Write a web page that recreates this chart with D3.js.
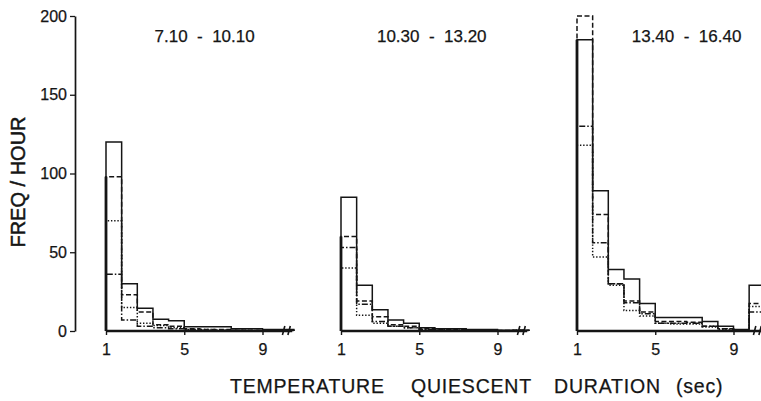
<!DOCTYPE html>
<html>
<head>
<meta charset="utf-8">
<script src="https://cdn.jsdelivr.net/npm/d3@7"></script>
<style>
  body { margin: 0; background: #fff; }
  svg text { font-family: "Liberation Sans", Arial, sans-serif; fill: #151515; stroke: #151515; stroke-width: 0.25; }
  .hist { fill: none; stroke: #151515; stroke-width: 1.5; }
</style>
</head>
<body>
<svg id="chart" width="761" height="401"></svg>
<script>
// tick values / labels
var panelTitles = ['7.10  -  10.10', '10.30  -  13.20', '13.40  -  16.40'];
var yTicks = [0, 50, 100, 150, 200];
var xTickBins = [0, 5, 10];          // bin edges carrying the ticks
var xTickLabels = ['1', '5', '9'];
var xTitleWords = ['TEMPERATURE', 'QUIESCENT', 'DURATION', '(sec)'];

// freq / hour per bin: 11 bins, then the bin past the axis break
var p1Solid   = [120, 30, 14.5, 7.5, 6.5, 2.7, 2.7, 2.7, 1.5, 1.5, 1, 1];
var p1Dashed  = [98, 23, 12, 4, 3, 1.5, 1, 1, 0.5, 0.5, 0.3, 0.5];
var p1DashDot = [36, 7, 3, 2, 1.5, 1, 0.5, 0.5, 0.3, 0.2, 0.2, 0.3];
var p1Dotted  = [70, 15, 5, 3.5, 2, 1, 1, 0.5, 0.5, 0.3, 0.2, 0.5];

var p2Solid   = [85, 29, 13.5, 7, 5, 2, 1.5, 1.5, 1, 1, 0.5, 0.5];
var p2Dashed  = [60, 19, 9, 4, 3, 1.5, 1, 1, 0.5, 0.5, 0.3, 0.5];
var p2DashDot = [53, 17, 6, 3, 2, 1, 0.5, 0.5, 0.3, 0.3, 0.2, 0.3];
var p2Dotted  = [40, 10, 5, 3, 2, 1, 1, 0.5, 0.5, 0.3, 0.2, 0.3];

var p3Solid   = [185, 89, 39, 33, 17.5, 8.5, 8.5, 8.5, 6, 3, 1, 29];
var p3Dashed  = [200, 74, 30, 19, 12, 6, 6, 5.5, 3, 1.5, 0.5, 17.5];
var p3DashDot = [130, 56, 30, 18, 11, 5, 5, 5, 3, 1.5, 0.5, 12];
var p3Dotted  = [118, 47, 29, 13, 9.5, 5, 4.5, 4.5, 2.5, 1, 0.5, 15.5];

var panels = [
  [p1Dotted, p1DashDot, p1Dashed, p1Solid],
  [p2Dotted, p2DashDot, p2Dashed, p2Solid],
  [p3Dotted, p3DashDot, p3Dashed, p3Solid]
];
var dashes = ['1.4,1.8', '6,2,1.5,2', '5,2.5', null];

var svg = d3.select('#chart');
var _top = 16, _base = 331, _binW = 15.65, _panelX = [106, 341, 577];
var _titleAt = [6.3, 5.8, 7.0];

var y = d3.scaleLinear().domain([0, 200]).range([_base, _top]);

// y axis, first panel only
var yAxis = svg.append('g')
    .attr('transform', 'translate(75,0)')
    .call(d3.axisLeft(y).tickValues(yTicks).tickSize(5).tickSizeOuter(0).tickPadding(3));
yAxis.select('.domain').attr('stroke', '#151515').attr('stroke-width', 1.7);
yAxis.selectAll('line').attr('stroke', '#151515').attr('stroke-width', 1.3);
yAxis.selectAll('text').style('font-size', '16px').attr('fill', '#151515');

panels.forEach(function(series, p) {
  var x = d3.scaleLinear().domain([0, 12]).range([_panelX[p], _panelX[p] + 12 * _binW]);
  var g = svg.append('g');

  var line = d3.line()
      .x(function(d) { return x(d[0]); })
      .y(function(d) { return y(d[1]); })
      .curve(d3.curveStepAfter);

  series.forEach(function(vals, s) {
    var pts = [[0, 0]];
    vals.forEach(function(v, i) { pts.push([i, v]); });
    pts.push([vals.length, 0]);
    g.append('path')
        .attr('class', 'hist')
        .attr('d', line(pts))
        .attr('stroke-dasharray', dashes[s]);
  });

  // heavy left edge where the four outlines overlap
  var sorted = series.map(function(v) { return v[0]; }).sort(d3.descending);
  g.append('line')
      .attr('x1', x(0)).attr('x2', x(0))
      .attr('y1', y(0)).attr('y2', y(sorted[1]))
      .attr('stroke', '#151515').attr('stroke-width', 2.8);

  var xAxis = g.append('g')
      .attr('transform', 'translate(0,' + _base + ')')
      .call(d3.axisBottom(x).tickValues(xTickBins)
        .tickFormat(function(d, i) { return xTickLabels[i]; })
        .tickSize(4).tickSizeOuter(0).tickPadding(9));
  xAxis.select('.domain').remove();
  xAxis.selectAll('line').attr('stroke', '#151515').attr('stroke-width', 1.4);
  xAxis.selectAll('text').style('font-size', '16px').attr('fill', '#151515');

  // baseline
  g.append('line')
      .attr('x1', x(0)).attr('x2', x(11.9))
      .attr('y1', _base).attr('y2', _base)
      .attr('stroke', '#151515').attr('stroke-width', 2.4);

  // axis break marks
  [11.35, 11.7].forEach(function(b) {
    g.append('line')
        .attr('x1', x(b) - 1.2).attr('x2', x(b) + 1.2)
        .attr('y1', _base + 4).attr('y2', _base - 5)
        .attr('stroke', '#151515').attr('stroke-width', 1.6);
  });

  g.append('text')
      .attr('x', x(_titleAt[p]))
      .attr('y', 42)
      .attr('text-anchor', 'middle')
      .attr('xml:space', 'preserve')
      .style('font-size', '17px')
      .text(panelTitles[p]);
});

svg.append('text')
    .attr('transform', 'translate(25,182) rotate(-90)')
    .attr('text-anchor', 'middle')
    .style('font-size', '20px')
    .style('stroke-width', 0.5)
    .text('FREQ / HOUR');

var wordX = [230, 411, 554, 676];
svg.append('text')
    .attr('y', 393)
    .style('font-size', '19.5px')
    .style('letter-spacing', '0.8px')
  .selectAll('tspan')
  .data(xTitleWords)
  .enter().append('tspan')
    .attr('x', function(d, i) { return wordX[i]; })
    .text(function(d) { return d; });
</script>
</body>
</html>
